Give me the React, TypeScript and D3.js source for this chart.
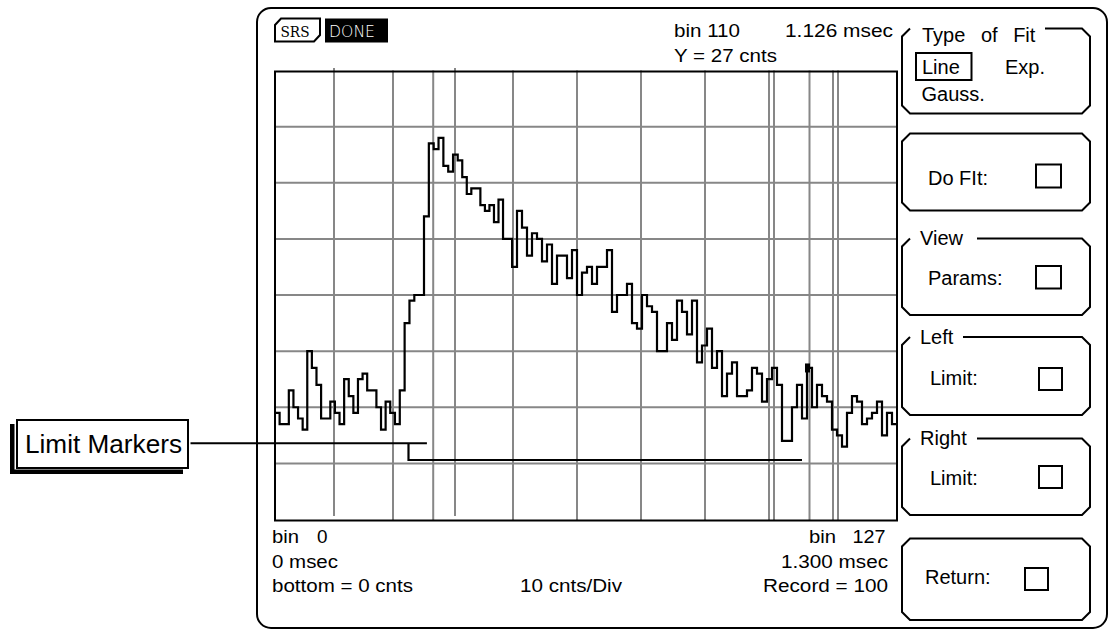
import React from "react";
import * as d3 from "d3";

const counts: number[] = [
  19, 17, 17, 23, 20, 18, 16, 30, 27, 24,
  18, 18, 21, 19, 17, 25, 22, 19, 25, 26,
  23, 23, 20, 16, 21, 19, 17, 23, 35, 39,
  40, 40, 54, 67, 66, 68, 63, 62, 65, 64,
  61, 58, 59, 59, 56, 55, 56, 53, 57, 50,
  50, 45, 55, 52, 47, 51, 50, 46, 49, 42,
  47, 47, 43, 48, 40, 44, 45, 42, 45, 45,
  48, 37, 40, 40, 42, 35, 34, 40, 38, 37,
  30, 30, 35, 32, 39, 37, 33, 39, 28, 31,
  34, 27, 30, 22, 26, 28, 22, 22, 23, 27,
  26, 21, 25, 27, 24, 14, 14, 20, 24, 18,
  27, 20, 24, 22, 21, 16, 15, 13, 19, 22,
  21, 17, 18, 19, 21, 15, 19, 17,
];
const binRange = [0, 127];
const timeRangeMs = [0, 1.3];
const yDomain = [0, 80];
const cntsPerDiv = 10;
const xDivisions = 10;
const cursorBin = 110;
const record = 100;
const extraLineBins = [33.9, 103.4, 116.2];
const longLineBins = [12.8, 38.4];
const leftLimitBin = 28.8;
const rightLimitBin = 109;
const calloutEndBin = 32.6;
const markerUpper = 13.6;
const markerLower = 10.6;

// ---- layout ----
const W = 1110;
const H = 629;
const FONT = "'Liberation Sans', Arial, Helvetica, sans-serif";
const gridColor = "#878787";
const divPixels = [275, 334, 393, 455, 513, 577, 641, 705, 769, 833, 897];

const nBins = counts.length;
const divBins = d3.range(xDivisions + 1).map((k) => (k * nBins) / xDivisions);
const xScale = d3.scaleLinear().domain(divBins).range(divPixels);
const yScale = d3.scaleLinear().domain(yDomain).range([519.5, 70.5]);

function buttonPath(l: number, t: number, r: number, b: number, c: number, gapEnd?: number) {
  const p = d3.path();
  if (gapEnd !== undefined) p.moveTo(gapEnd, t);
  else p.moveTo(l + c, t);
  p.lineTo(r - c, t);
  p.lineTo(r, t + c);
  p.lineTo(r, b - c);
  p.lineTo(r - c, b);
  p.lineTo(l + c, b);
  p.lineTo(l, b - c);
  p.lineTo(l, t + c);
  p.lineTo(l + c, t);
  if (gapEnd === undefined) p.closePath();
  return p.toString();
}

type TP = {
  x: number;
  y: number;
  s: number;
  len?: number;
  fill?: string;
  family?: string;
  weight?: number | string;
  ws?: number;
  children: React.ReactNode;
};
const T = ({ x, y, s, len, fill = "#000", family = FONT, weight, ws, children }: TP) => (
  <text
    x={x}
    y={y}
    fontSize={s}
    fontFamily={family}
    fill={fill}
    fontWeight={weight}
    wordSpacing={ws}
    textLength={len}
    lengthAdjust={len ? "spacingAndGlyphs" : undefined}
  >
    {children}
  </text>
);

export default function App() {
  const stepData = [...counts, counts[counts.length - 1]];
  const line = d3
    .line<number>()
    .x((_, i) => xScale(i))
    .y((d) => yScale(d))
    .curve(d3.curveStepAfter);
  const tracePath = line(stepData) || "";

  const vGrid = d3.range(1, xDivisions).map((k) => divBins[k]);
  const hGrid = d3.range(yDomain[0] + cntsPerDiv, yDomain[1], cntsPerDiv);
  const top = yScale(yDomain[1]);
  const bottom = yScale(yDomain[0]);

  const binTime = (timeRangeMs[1] - timeRangeMs[0]) / (binRange[1] - binRange[0]);
  const cursorTime = (cursorBin * binTime).toFixed(3);

  const bl = 902;
  const br = 1090;
  const ch = 8;

  const xl = xScale(leftLimitBin);
  const xr = xScale(rightLimitBin);
  const yU = yScale(markerUpper);
  const yL = yScale(markerLower);

  return (
    <svg
      width={W}
      height={H}
      viewBox={`0 0 ${W} ${H}`}
      style={{ position: "absolute", left: 0, top: 0, background: "#fff" }}
    >
      <rect x={0} y={0} width={W} height={H} fill="#fff" />
      {/* outer rounded frame */}
      <rect x={257} y={8} width={850} height={620} rx={14} ry={14} fill="none" stroke="#000" strokeWidth={2} />

      {/* SRS logo + DONE */}
      <path d="M275,25 L281,18.5 L320,18.5 L320,35 L314,41.5 L275,41.5 Z" fill="#fff" stroke="#000" strokeWidth={2} />
      <T x={280.5} y={37} s={14} len={29} family="'DejaVu Serif', 'Liberation Serif', serif">SRS</T>
      <rect x={325} y={18.5} width={63} height={24} fill="#000" />
      <T x={329} y={36.5} s={16} len={46} fill="#fff" weight={200} family="'DejaVu Sans', sans-serif">DONE</T>

      {/* header readouts */}
      <T x={674} y={37} s={18} len={66}>{`bin ${cursorBin}`}</T>
      <T x={785} y={37} s={18} len={108}>{`${cursorTime} msec`}</T>
      <T x={674} y={62} s={18} len={103}>{`Y = ${counts[cursorBin]} cnts`}</T>

      {/* grid */}
      {hGrid.map((v) => (
        <line key={"h" + v} x1={divPixels[0]} x2={divPixels[xDivisions]} y1={yScale(v)} y2={yScale(v)} stroke={gridColor} strokeWidth={2} />
      ))}
      {vGrid.map((b) => {
        const long = longLineBins.some((lb) => Math.abs(lb - b) < 0.01);
        return (
          <line key={"v" + b} x1={xScale(b)} x2={xScale(b)} y1={long ? top - 2.5 : top} y2={long ? bottom - 3.5 : bottom + 1} stroke={gridColor} strokeWidth={2} />
        );
      })}
      {extraLineBins.map((b) => (
        <line key={"e" + b} x1={xScale(b)} x2={xScale(b)} y1={top} y2={bottom + 1} stroke={gridColor} strokeWidth={2} />
      ))}
      <line x1={xScale(cursorBin + 0.5)} x2={xScale(cursorBin + 0.5)} y1={top} y2={bottom + 1} stroke={gridColor} strokeWidth={2} />

      {/* plot frame */}
      <rect x={divPixels[0]} y={top + 1} width={divPixels[xDivisions] - divPixels[0]} height={bottom - top} fill="none" stroke="#000" strokeWidth={2} />

      {/* histogram trace */}
      <path d={tracePath} fill="none" stroke="#000" strokeWidth={2.2} strokeLinejoin="miter" />
      <rect
        x={xScale(cursorBin) - 2}
        y={yScale(counts[cursorBin]) - 4.5}
        width={xScale(cursorBin + 1) - xScale(cursorBin)}
        height={9}
        fill="#000"
      />

      {/* limit markers */}
      <line x1={188} x2={xScale(calloutEndBin)} y1={yU} y2={yU} stroke="#000" strokeWidth={2} />
      <path d={`M${xl},${yU} L${xl},${yL} L${xr},${yL}`} fill="none" stroke="#000" strokeWidth={2.2} />

      {/* callout box */}
      <rect x={10} y={424} width={173} height={50} fill="#000" />
      <rect x={14.5} y={417.5} width={176} height={52} fill="#fff" />
      <rect x={17} y={420} width={171} height={48} fill="#fff" stroke="#000" strokeWidth={2} />
      <T x={25} y={453} s={26} len={157}>Limit Markers</T>

      {/* bottom readouts */}
      <T x={272} y={543} s={18} len={27}>bin</T>
      <T x={317} y={543} s={18} len={10.5}>{`${binRange[0]}`}</T>
      <T x={809} y={543} s={18} len={27}>bin</T>
      <T x={852.5} y={543} s={18} len={33}>{`${binRange[1]}`}</T>
      <T x={272} y={567.5} s={18} len={66}>{`${timeRangeMs[0]} msec`}</T>
      <T x={781} y={567.5} s={18} len={107}>{`${timeRangeMs[1].toFixed(3)} msec`}</T>
      <T x={272} y={591.5} s={18} len={141}>{`bottom = ${yDomain[0]} cnts`}</T>
      <T x={520} y={591.5} s={18} len={102}>{`${cntsPerDiv} cnts/Div`}</T>
      <T x={763} y={591.5} s={18} len={125}>{`Record = ${record}`}</T>

      {/* right-hand soft-key panel */}
      <g fill="none" stroke="#000" strokeWidth={2}>
        <path d={buttonPath(bl, 28.5, br, 113.5, ch, 1045)} />
        <path d={buttonPath(bl, 133.5, br, 210.5, ch)} />
        <path d={buttonPath(bl, 238.5, br, 315, ch, 977)} />
        <path d={buttonPath(bl, 337, br, 415, ch, 963)} />
        <path d={buttonPath(bl, 438.5, br, 515, ch, 977)} />
        <path d={buttonPath(bl, 538.5, br, 620, ch)} />
        <rect x={916} y={53} width={55.5} height={27} />
        <rect x={1036} y={164.5} width={25} height={23} />
        <rect x={1036} y={266} width={25} height={22.5} />
        <rect x={1039} y={368} width={23} height={22} />
        <rect x={1039} y={466} width={23} height={22} />
        <rect x={1025} y={568} width={23} height={22} />
      </g>
      <T x={922} y={41.5} s={20} ws={10}>Type of Fit</T>
      <T x={922} y={74} s={20}>Line</T>
      <T x={1005} y={74} s={20}>Exp.</T>
      <T x={921.5} y={100.5} s={20}>Gauss.</T>
      <T x={928} y={184.5} s={20}>Do FIt:</T>
      <T x={920} y={245} s={20}>View</T>
      <T x={928} y={285} s={20}>Params:</T>
      <T x={920} y={343.5} s={20}>Left</T>
      <T x={930} y={385} s={20}>Limit:</T>
      <T x={920} y={445} s={20}>Right</T>
      <T x={930} y={485} s={20}>Limit:</T>
      <T x={925} y={584} s={20}>Return:</T>
    </svg>
  );
}
